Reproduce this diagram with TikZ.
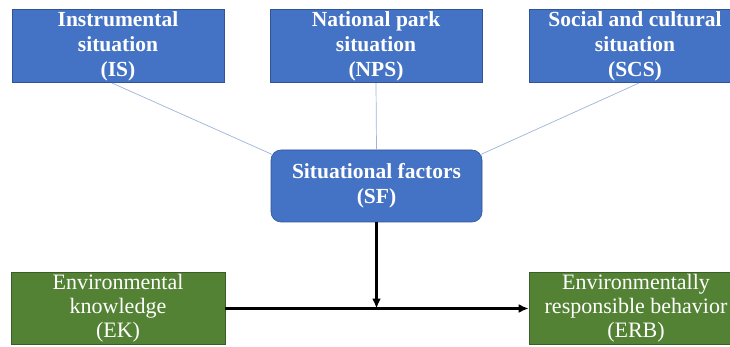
\documentclass[tikz,border=0pt]{standalone}
\usepackage{fontspec}
\setmainfont{Liberation Serif}
\usetikzlibrary{arrows.meta,positioning}
\definecolor{boxblue}{HTML}{4472C4}
\definecolor{blueedge}{HTML}{2F5597}
\definecolor{boxgreen}{HTML}{548235}
\definecolor{greenedge}{HTML}{3B5E26}
\definecolor{linkblue}{HTML}{9DB3DA}

\begin{document}
\begin{tikzpicture}[x=1pt,y=-1pt,>=Latex,
  bluebox/.style={draw=blueedge,line width=0.6pt,fill=boxblue,text=white,minimum width=212pt,minimum height=70pt,align=center,inner sep=2pt,font=\fontsize{21.5}{25}\selectfont\bfseries},
  greenbox/.style={draw=greenedge,line width=0.6pt,fill=boxgreen,text=white,minimum width=214pt,minimum height=69pt,align=center,inner sep=2pt,font=\fontsize{22}{24}\selectfont},
  link/.style={draw=linkblue,line width=0.7pt},
  flow/.style={draw=black,line width=2.6pt,-{Latex[length=10pt,width=9pt]}}]
\useasboundingbox (0,0) rectangle (730,347);
% situation boxes
\node[bluebox] (is) at (118,46) {Instrumental\\situation\\(IS)};
\node[bluebox] (nps) at (376,46) {National park\\situation\\(NPS)};
\node[bluebox] (scs) at (635,46) {Social and cultural\\situation\\(SCS)};
\node[bluebox,rounded corners=10pt,minimum width=211pt,minimum height=72pt] (sf) at (376.5,186) {Situational factors\\(SF)};
% knowledge and behavior
\node[greenbox] (ek) at (118,308.5) {Environmental\\knowledge\\(EK)};
\node[greenbox] (erb) at (636,308.5) {Environmentally\\responsible behavior\\(ERB)};
\draw[link] ([xshift=-6pt]is.south) -- ([xshift=2pt,yshift=-5pt]sf.north west);
\draw[link] (nps.south) -- (sf.north);
\draw[link] ([xshift=4pt]scs.south) -- ([xshift=-2pt,yshift=-5pt]sf.north east);
\coordinate (meet) at (sf.south |- ek.east);
\draw[flow] (ek.east) -- (erb.west);
\draw[flow] (sf.south) -- (meet);
\end{tikzpicture}
\end{document}
